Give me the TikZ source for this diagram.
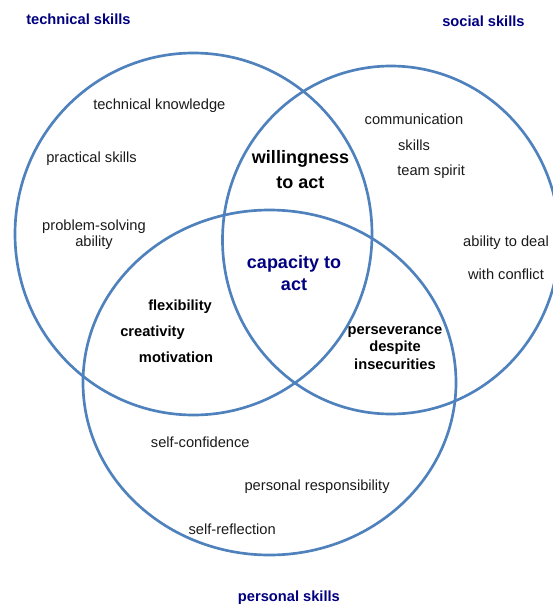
\documentclass[tikz,border=0pt]{standalone}
\usepackage{fontspec}
\setmainfont{Liberation Sans}
\definecolor{set-blue}{HTML}{4F81BD}
\definecolor{set-navy}{HTML}{000080}
\definecolor{item-grey}{HTML}{1A1A1A}

\begin{document}
\begin{tikzpicture}[x=0.75pt, y=-0.75pt,
      every node/.style={inner sep=0pt, anchor=base},
      set/.style={draw=set-blue, line width=2pt},
      title/.style={font=\fontsize{11}{13}\selectfont\bfseries, text=set-navy},
      item/.style={font=\fontsize{11}{13}\selectfont, text=item-grey, align=center},
      core/.style={font=\fontsize{11}{13}\selectfont\bfseries, align=center},
      big/.style={font=\fontsize{13.5}{16.5}\selectfont\bfseries, align=center}]
    \useasboundingbox (0,0) rectangle (553,604);

    % the three skill sets
    \draw[set] (193.5,234) ellipse (178.5 and 181);
    \draw[set] (391,240) ellipse (168.5 and 174);
    \draw[set] (269.5,382.5) ellipse (186.5 and 172.5);

    % set names
    \node[title, anchor=base west] (tech) at (26,24) {technical skills};
    \node[title, anchor=base west] (social) at (442,26.7) {social skills};
    \node[title, anchor=base west] (personal) at (237.7,601.5) {personal skills};

    % technical skills only (multi-line nodes sit on their last line)
    \node[item, anchor=base west] (knowledge) at (93,109) {technical knowledge};
    \node[item, anchor=base west] (practical) at (46,162) {practical skills};
    \node[item, font=\fontsize{11}{12}\selectfont] (problem) at (94,246.7)
          {problem-solving\\ability};

    % social skills only
    \node[item, font=\fontsize{11}{19.5}\selectfont] (communication) at (414,150)
          {communication\\skills};
    \node[item, anchor=base west] (team) at (397,175.7) {team spirit};
    \node[item, font=\fontsize{11}{24.75}\selectfont] (conflict) at (506,279.3)
          {ability to deal\\with conflict};

    % personal skills only
    \node[item, anchor=base west] (confidence) at (150.7,447.3) {self-confidence};
    \node[item, anchor=base west] (responsibility) at (244.3,490.5) {personal responsibility};
    \node[item, anchor=base west] (reflection) at (188.3,534.2) {self-reflection};

    % overlaps
    \node[big, font=\fontsize{13.5}{19}\selectfont\bfseries] (willing) at (300.5,188.7)
          {willingness\\to act};
    \node[big, text=set-navy] (capacity) at (294,290.5) {capacity to\\act};
    \node[core, anchor=base west] (flex) at (148,310) {flexibility};
    \node[core, anchor=base west] (creative) at (120,336.7) {creativity};
    \node[core, anchor=base west] (motive) at (138.7,362.7) {motivation};
    \node[core] (persevere) at (395,369) {perseverance\\despite\\insecurities};
\end{tikzpicture}
\end{document}
